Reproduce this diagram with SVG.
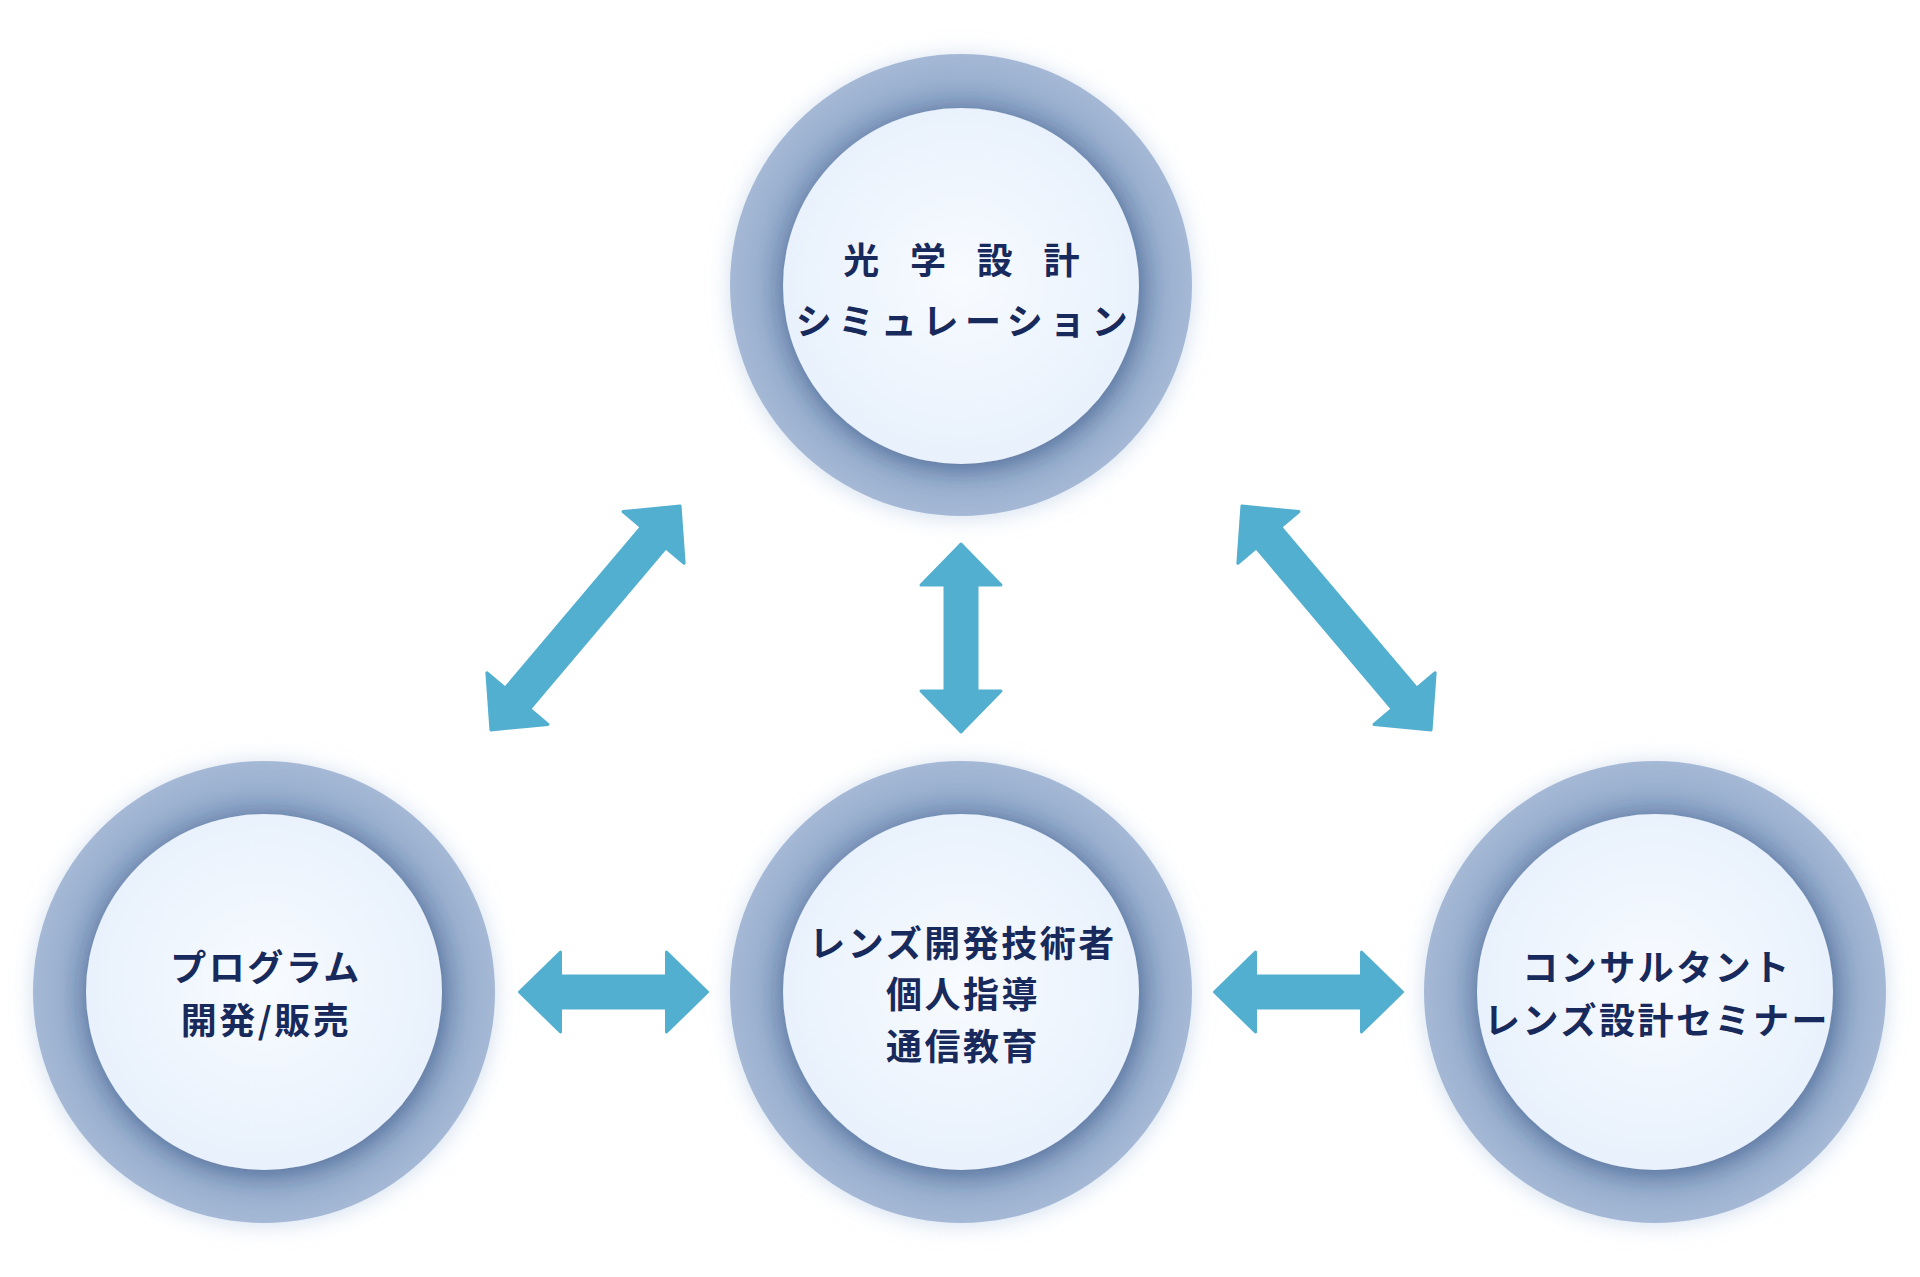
<svg xmlns="http://www.w3.org/2000/svg" width="1920" height="1277" viewBox="0 0 1920 1277">
<style>
.lbl{font-family:"Noto Sans CJK JP","Noto Sans",sans-serif;font-weight:700;font-size:36px;fill:#182a5c;text-anchor:middle;letter-spacing:2.5px}
.arr{fill:#52afcf;stroke:#52afcf;stroke-width:3;stroke-linejoin:round}
.outer{fill:url(#ringGrad);filter:url(#glow)}
.inner{fill:url(#innerGrad);filter:url(#innerShadow)}
</style>
<defs>
<radialGradient id="ringGrad" cx="50%" cy="50%" r="50%">
<stop offset="0.76" stop-color="#869ec2"/>
<stop offset="0.88" stop-color="#9ab0cf"/>
<stop offset="1" stop-color="#a5b9d6"/>
</radialGradient>
<radialGradient id="innerGrad" cx="50%" cy="48%" r="52%">
<stop offset="0" stop-color="#f8fbff"/>
<stop offset="1" stop-color="#e8f1fc"/>
</radialGradient>
<filter id="glow" x="-30%" y="-30%" width="160%" height="160%">
<feDropShadow dx="0" dy="2" stdDeviation="11" flood-color="#b9cde6" flood-opacity="0.65"/>
</filter>
<filter id="innerShadow" x="-30%" y="-30%" width="160%" height="160%">
<feDropShadow dx="2" dy="4" stdDeviation="13" flood-color="#2c4878" flood-opacity="0.55"/>
</filter>
<path id="arrS" d="M-94,0 L-53,-40 L-53,-16 L53,-16 L53,-40 L94,0 L53,40 L53,16 L-53,16 L-53,40 Z"/>
<path id="arrL" d="M-146.5,0 L-105.5,-40 L-105.5,-16 L105.5,-16 L105.5,-40 L146.5,0 L105.5,40 L105.5,16 L-105.5,16 L-105.5,40 Z"/>
</defs>
<rect width="1920" height="1277" fill="#ffffff"/>

<g id="connectors">
<use href="#arrL" class="arr" transform="translate(585.5,618) rotate(-49.8)"/>
<use href="#arrL" class="arr" transform="translate(1336.5,618) rotate(49.8)"/>
<use href="#arrS" class="arr" transform="translate(961,638) rotate(90)"/>
<use href="#arrS" class="arr" transform="translate(613.5,992)"/>
<use href="#arrS" class="arr" transform="translate(1308.5,992)"/>
</g>

<g id="node-optical">
<circle class="outer" cx="961" cy="285" r="231"/>
<circle class="inner" cx="961" cy="286" r="178"/>
<text class="lbl" x="967" y="274" style="letter-spacing:11.3px">光 学 設 計</text>
<text class="lbl" x="965" y="335" style="letter-spacing:6.5px">シミュレーション</text>
</g>

<g id="node-program">
<circle class="outer" cx="264" cy="992" r="231"/>
<circle class="inner" cx="264" cy="992" r="178"/>
<text class="lbl" x="266" y="981">プログラム</text>
<text class="lbl" x="266" y="1034">開発/販売</text>
</g>

<g id="node-engineer">
<circle class="outer" cx="961" cy="992" r="231"/>
<circle class="inner" cx="961" cy="992" r="178"/>
<text class="lbl" x="963" y="957">レンズ開発技術者</text>
<text class="lbl" x="963" y="1008">個人指導</text>
<text class="lbl" x="963" y="1060">通信教育</text>
</g>

<g id="node-consultant">
<circle class="outer" cx="1655" cy="992" r="231"/>
<circle class="inner" cx="1655" cy="992" r="178"/>
<text class="lbl" x="1657" y="981">コンサルタント</text>
<text class="lbl" x="1657" y="1034">レンズ設計セミナー</text>
</g>
</svg>
